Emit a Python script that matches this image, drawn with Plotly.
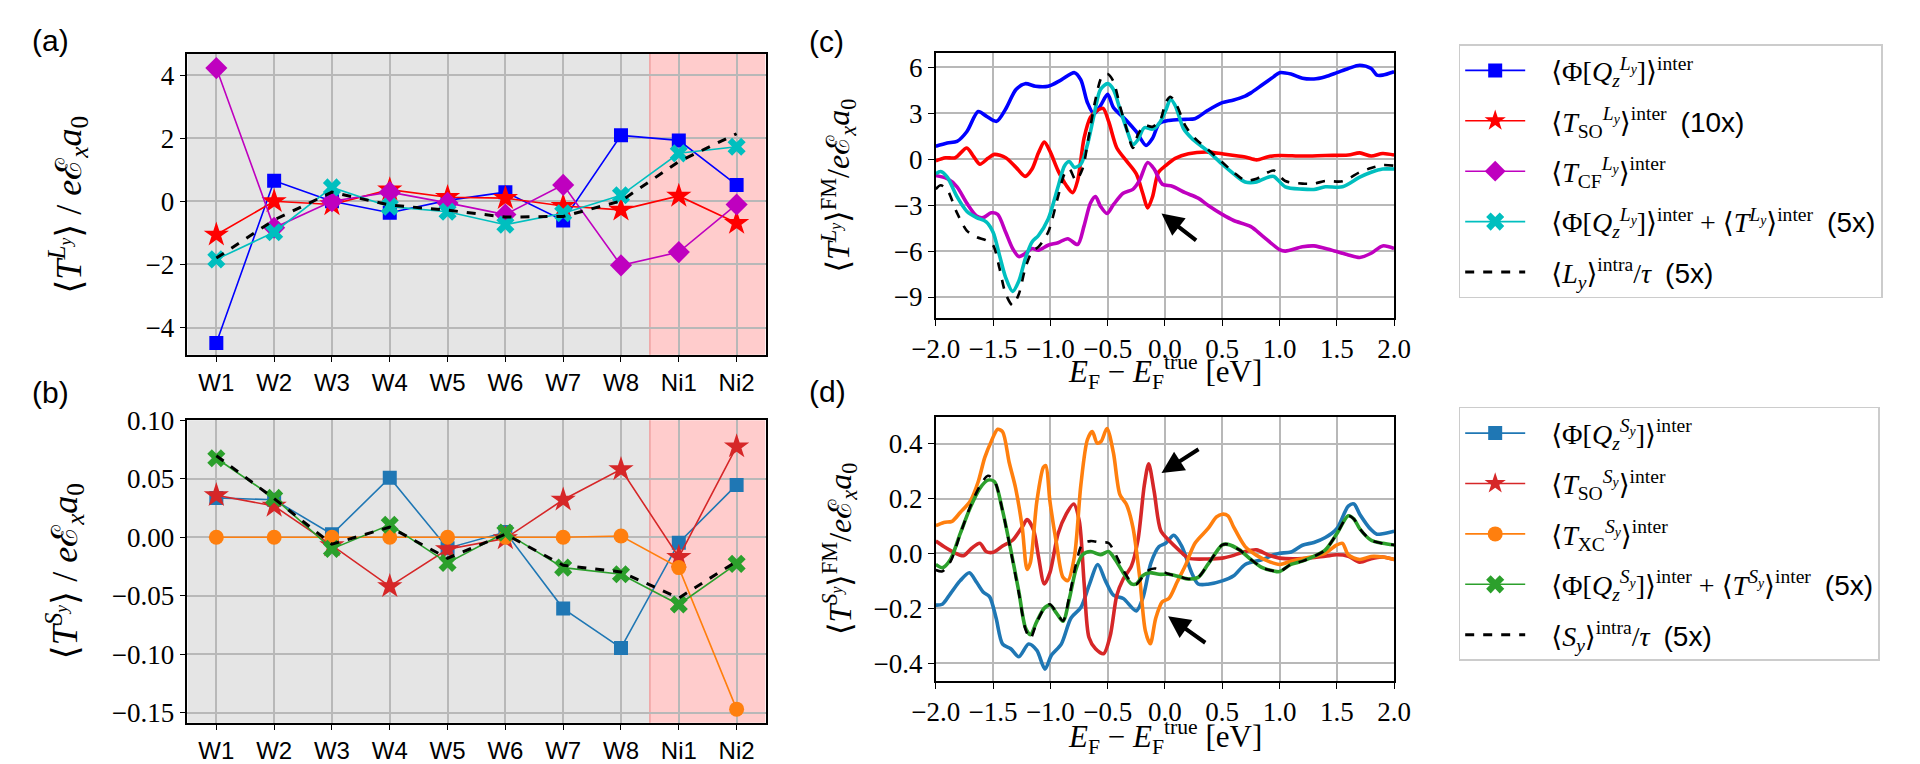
import plotly.graph_objects as go

# ---------------- data ----------------
sites = ["W1", "W2", "W3", "W4", "W5", "W6", "W7", "W8", "Ni1", "Ni2"]

# panel (a)
a_phiQ = [-4.49, 0.65, 0.0, -0.36, 0.03, 0.29, -0.61, 2.09, 1.93, 0.52]
a_tso = [-1.06, 0.0, -0.1, 0.37, 0.13, 0.1, -0.15, -0.27, 0.17, -0.69]
a_tcf = [4.22, -0.84, 0.0, 0.29, -0.05, -0.42, 0.52, -2.03, -1.61, -0.1]
a_sum = [-1.84, -0.98, 0.44, -0.17, -0.33, -0.74, -0.38, 0.19, 1.52, 1.73]
a_intra = [-1.8, -0.59, 0.29, -0.12, -0.28, -0.5, -0.48, 0.01, 1.26, 2.14]

# panel (b)
b_phiQ = [0.0336, 0.032, 0.0025, 0.0508, -0.0094, 0.0044, -0.061, -0.0947, -0.0047, 0.0447]
b_tso = [0.0358, 0.0267, -0.007, -0.042, -0.0103, -0.001, 0.032, 0.058, -0.017, 0.0775]
b_txc = [0.0, 0.0, 0.0, 0.0, 0.0, 0.0, 0.0, 0.001, -0.026, -0.147]
b_sum = [0.0675, 0.0336, -0.01, 0.0106, -0.022, 0.004, -0.026, -0.0317, -0.0575, -0.0228]
b_intra = [0.0697, 0.033, -0.006, 0.0086, -0.018, 0.0025, -0.024, -0.0297, -0.052, -0.0206]

# panel (c)
c_phiQ_E = [-2, -1.9, -1.815, -1.73, -1.63, -1.56, -1.47, -1.39, -1.30, -1.22, -1.13, -1.02, -0.905,
            -0.79, -0.734, -0.677, -0.62, -0.563, -0.5, -0.45, -0.336, -0.25, -0.165, -0.108, -0.051,
            0.034, 0.176, 0.26, 0.375, 0.5, 0.6, 0.7, 0.75, 0.85, 0.95, 1.0, 1.1, 1.2, 1.3, 1.4, 1.5,
            1.6, 1.7, 1.8, 1.85, 1.9, 2.0]
c_phiQ = [0.85, 1.06, 1.17, 1.8, 3.12, 2.82, 2.48, 3.29, 4.56, 4.94, 4.77, 4.77, 5.19, 5.66, 5.19,
          3.71, 2.97, 3.5, 4.24, 3.39, 2.54, 1.8, 0.91, 1.38, 2.33, 2.54, 2.61, 2.65, 3.2, 3.7, 3.88,
          4.13, 4.34, 4.87, 5.4, 5.66, 5.57, 5.3, 5.25, 5.4, 5.66, 5.93, 6.14, 5.93, 5.5, 5.5, 5.72]

c_tso_E = [-2, -1.915, -1.83, -1.73, -1.673, -1.616, -1.545, -1.49, -1.39, -1.30, -1.22, -1.16, -1.104,
           -1.053, -1.004, -0.933, -0.862, -0.805, -0.762, -0.706, -0.65, -0.592, -0.54, -0.49, -0.42,
           -0.336, -0.25, -0.194, -0.151, -0.108, -0.057, 0.006, 0.09, 0.205, 0.375, 0.5, 0.7, 0.8,
           0.9, 1.0, 1.2, 1.4, 1.6, 1.7, 1.8, 1.9, 2.0]
c_tso = [-0.1, 0.1, 0.1, 0.74, 0.21, -0.32, 0.06, 0.32, 0.1, -0.53, -1.12, -0.64, 0.42, 1.12, 0.53,
         -0.74, -1.7, -2.18, -1.38, 1.38, 2.75, 3.18, 3.33, 2.44, 0.74, -0.1, -0.95, -2.22, -3.18,
         -2.44, -0.85, -0.42, 0.06, 0.36, 0.47, 0.36, 0.15, -0.04, 0.17, 0.25, 0.21, 0.25, 0.28, 0.42,
         0.21, 0.38, 0.28]

c_tcf_E = [-2, -1.9, -1.815, -1.73, -1.644, -1.587, -1.516, -1.46, -1.39, -1.33, -1.275, -1.218, -1.16,
           -1.104, -1.02, -0.933, -0.848, -0.762, -0.706, -0.65, -0.606, -0.563, -0.506, -0.45, -0.365,
           -0.28, -0.222, -0.151, -0.094, -0.023, 0.063, 0.176, 0.29, 0.375, 0.5, 0.6, 0.75, 0.85, 1.0,
           1.05, 1.2, 1.3, 1.45, 1.6, 1.7, 1.8, 1.9, 2.0]
c_tcf = [-1.06, -1.27, -1.8, -2.86, -3.71, -3.81, -3.5, -3.6, -4.77, -5.83, -6.36, -6.14, -5.83, -5.94,
         -5.62, -5.45, -5.19, -5.57, -4.35, -2.86, -2.44, -3.07, -3.54, -2.97, -2.22, -1.97, -1.38,
         -0.21, -0.64, -1.63, -1.76, -2.18, -2.54, -3.0, -3.6, -4.0, -4.4, -5.0, -5.9, -6.0, -5.72,
         -5.66, -5.93, -6.25, -6.42, -6.14, -5.66, -5.83]

c_sum_E = [-2, -1.957, -1.9, -1.815, -1.73, -1.644, -1.56, -1.5, -1.445, -1.39, -1.33, -1.275, -1.218,
           -1.16, -1.104, -1.02, -0.933, -0.876, -0.834, -0.79, -0.734, -0.677, -0.62, -0.563, -0.5,
           -0.45, -0.393, -0.336, -0.28, -0.237, -0.18, -0.108, -0.051, 0.006, 0.048, 0.09, 0.162,
           0.233, 0.319, 0.375, 0.5, 0.6, 0.7, 0.8, 0.9, 0.95, 1.05, 1.2, 1.3, 1.4, 1.55, 1.7, 1.8,
           1.9, 2.0]
c_sum = [-0.95, -0.8, -1.17, -2.44, -3.39, -3.81, -4.09, -4.77, -6.25, -7.73, -8.63, -7.95, -6.47,
         -5.4, -4.98, -3.92, -1.8, -0.42, -0.15, -0.53, -0.32, 0.95, 2.86, 4.56, 4.94, 4.56, 3.29,
         2.01, 0.95, 1.27, 2.06, 1.97, 2.33, 3.18, 3.92, 3.5, 2.01, 1.38, 0.85, 0.53, -0.32, -0.95,
         -1.48, -1.48, -1.17, -1.12, -1.8, -1.95, -1.97, -1.8, -1.8, -1.17, -0.85, -0.64, -0.64]

c_intra_E = [-2, -1.957, -1.9, -1.815, -1.73, -1.644, -1.56, -1.5, -1.445, -1.39, -1.33, -1.275, -1.218,
             -1.16, -1.104, -1.02, -0.933, -0.876, -0.834, -0.777, -0.72, -0.663, -0.606, -0.55, -0.5,
             -0.45, -0.393, -0.336, -0.28, -0.237, -0.18, -0.108, -0.037, 0.006, 0.048, 0.105, 0.176,
             0.26, 0.375, 0.5, 0.6, 0.7, 0.8, 0.9, 0.95, 1.05, 1.2, 1.3, 1.4, 1.55, 1.7, 1.8, 1.9, 2.0]
c_intra = [-1.95, -1.7, -2.0, -3.5, -4.66, -5.08, -5.3, -5.62, -7.1, -8.8, -9.54, -8.8, -7.1, -6.04,
           -5.72, -4.77, -2.44, -0.95, -0.64, -1.38, -0.64, 1.59, 3.92, 5.4, 5.57, 5.09, 3.5, 2.01,
           0.74, 1.59, 2.22, 2.12, 2.65, 3.71, 4.09, 3.5, 2.22, 1.38, 0.64, -0.2, -0.85, -1.38, -1.27,
           -0.85, -0.74, -1.42, -1.59, -1.59, -1.42, -1.44, -0.85, -0.57, -0.38, -0.42]

# panel (d)
d_phiQ_E = [-2, -1.943, -1.872, -1.787, -1.707, -1.644, -1.587, -1.53, -1.474, -1.417, -1.346, -1.275,
            -1.19, -1.118, -1.047, -0.99, -0.905, -0.82, -0.734, -0.663, -0.586, -0.52, -0.45, -0.364,
            -0.25, -0.194, -0.122, -0.051, 0.006, 0.077, 0.148, 0.233, 0.29, 0.375, 0.5, 0.6, 0.7,
            0.85, 0.95, 1.0, 1.1, 1.2, 1.3, 1.4, 1.5, 1.6, 1.65, 1.7, 1.8, 1.85, 1.9, 2.0]
d_phiQ = [-0.188, -0.185, -0.146, -0.099, -0.07, -0.105, -0.14, -0.158, -0.235, -0.33, -0.347, -0.376,
          -0.33, -0.353, -0.421, -0.37, -0.33, -0.235, -0.197, -0.117, -0.04, -0.099, -0.152, -0.164,
          -0.209, -0.164, -0.034, 0.025, 0.037, 0.066, 0.025, -0.07, -0.111, -0.112, -0.1, -0.081,
          -0.04, -0.022, -0.005, 0.001, 0.005, 0.03, 0.04, 0.058, 0.09, 0.172, 0.18, 0.143, 0.086,
          0.07, 0.072, 0.081]

d_tso_E = [-2, -1.93, -1.843, -1.758, -1.687, -1.616, -1.56, -1.5, -1.417, -1.33, -1.246, -1.203, -1.146,
           -1.104, -1.053, -1.004, -0.933, -0.862, -0.797, -0.748, -0.706, -0.663, -0.606, -0.535, -0.478,
           -0.42, -0.364, -0.293, -0.236, -0.18, -0.142, -0.094, -0.037, 0.034, 0.12, 0.205, 0.375, 0.5,
           0.6, 0.7, 0.8, 0.9, 1.0, 1.2, 1.4, 1.5, 1.6, 1.7, 1.8, 1.9, 2.0]
d_tso = [0.045, 0.025, 0.004, -0.008, 0.019, 0.037, 0.007, 0.004, 0.027, 0.048, 0.096, 0.123, 0.084,
         -0.011, -0.111, -0.07, 0.072, 0.143, 0.18, 0.119, -0.105, -0.306, -0.347, -0.365, -0.3, -0.152,
         -0.093, -0.046, 0.048, 0.249, 0.326, 0.225, 0.084, 0.048, 0.013, -0.017, -0.02, -0.017, -0.007,
         0.007, 0.013, -0.005, -0.017, -0.019, -0.01, -0.005, -0.01, -0.032, -0.019, -0.013, -0.022]

d_txc_E = [-2, -1.93, -1.858, -1.787, -1.7, -1.63, -1.573, -1.516, -1.46, -1.417, -1.36, -1.303, -1.246,
           -1.203, -1.175, -1.118, -1.061, -1.04, -1.004, -0.947, -0.89, -0.848, -0.79, -0.734, -0.677,
           -0.634, -0.592, -0.557, -0.506, -0.45, -0.393, -0.336, -0.28, -0.222, -0.171, -0.128, -0.08,
           -0.023, 0.034, 0.105, 0.176, 0.262, 0.375, 0.45, 0.5, 0.55, 0.6, 0.7, 0.8, 0.9, 1.0, 1.1,
           1.2, 1.3, 1.4, 1.5, 1.55, 1.6, 1.7, 1.8, 1.9, 2.0]
d_txc = [0.101, 0.113, 0.117, 0.149, 0.19, 0.261, 0.349, 0.408, 0.452, 0.443, 0.332, 0.237, 0.096,
         -0.058, -0.034, 0.19, 0.314, 0.32, 0.19, 0.037, -0.087, -0.099, -0.011, 0.249, 0.414, 0.444,
         0.402, 0.408, 0.455, 0.367, 0.214, 0.178, 0.096, -0.081, -0.282, -0.329, -0.235, -0.176,
         -0.164, -0.105, -0.046, 0.037, 0.09, 0.133, 0.143, 0.137, 0.096, 0.025, -0.007, -0.028, -0.04,
         -0.028, -0.019, -0.011, 0.001, 0.031, 0.037, -0.005, -0.022, -0.011, -0.013, -0.022]

d_sum_E = [-2, -1.943, -1.872, -1.787, -1.7, -1.616, -1.545, -1.488, -1.417, -1.346, -1.275, -1.218,
           -1.175, -1.118, -1.053, -1.004, -0.947, -0.89, -0.834, -0.777, -0.72, -0.649, -0.563, -0.492,
           -0.435, -0.364, -0.293, -0.25, -0.194, -0.137, -0.051, 0.034, 0.12, 0.205, 0.29, 0.375, 0.5,
           0.55, 0.65, 0.75, 0.85, 0.95, 1.0, 1.1, 1.2, 1.3, 1.4, 1.5, 1.6, 1.65, 1.7, 1.8, 1.9, 2.0]
d_sum = [-0.04, -0.052, -0.022, 0.072, 0.166, 0.237, 0.267, 0.261, 0.155, 0.013, -0.14, -0.27, -0.296,
         -0.247, -0.199, -0.188, -0.217, -0.247, -0.164, -0.058, -0.005, 0.007, -0.005, 0.007, -0.022,
         -0.07, -0.111, -0.111, -0.081, -0.07, -0.076, -0.076, -0.084, -0.093, -0.087, -0.04, 0.031,
         0.033, 0.013, -0.022, -0.052, -0.064, -0.066, -0.04, -0.028, -0.011, 0.013, 0.072, 0.137,
         0.125, 0.09, 0.048, 0.037, 0.031]

d_intra_E = [-2, -1.943, -1.872, -1.787, -1.7, -1.616, -1.545, -1.488, -1.417, -1.346, -1.275, -1.218,
             -1.175, -1.118, -1.053, -1.004, -0.947, -0.89, -0.834, -0.777, -0.72, -0.649, -0.563,
             -0.492, -0.435, -0.364, -0.293, -0.25, -0.194, -0.137, -0.08, -0.051, 0.034, 0.12, 0.205,
             0.29, 0.375, 0.5, 0.55, 0.65, 0.75, 0.85, 0.95, 1.0, 1.1, 1.2, 1.3, 1.4, 1.5, 1.6, 1.65,
             1.7, 1.8, 1.9, 2.0]
d_intra = [-0.06, -0.065, -0.03, 0.07, 0.17, 0.245, 0.283, 0.265, 0.155, 0.01, -0.145, -0.275, -0.31,
           -0.25, -0.2, -0.185, -0.215, -0.245, -0.155, -0.04, 0.035, 0.045, 0.04, 0.038, 0.0, -0.06,
           -0.105, -0.112, -0.085, -0.06, -0.055, -0.06, -0.075, -0.084, -0.093, -0.087, -0.04, 0.031,
           0.033, 0.013, -0.022, -0.052, -0.064, -0.066, -0.04, -0.028, -0.011, 0.013, 0.072, 0.137,
           0.125, 0.09, 0.048, 0.037, 0.031]

# ---------------- styling helpers ----------------
W, H = 1920, 764
SERIF = "Liberation Serif, DejaVu Serif, serif"
SANS = "Liberation Sans Narrow, Liberation Sans, Arial, sans-serif"
SANS_W = "Liberation Sans, Arial, sans-serif"


def px_x(p):
    return p / W


def px_y(p):
    return 1 - p / H


def sans(t):
    return f"<span style='font-family:{SANS_W}'>{t}</span>"


fig = go.Figure()

# legend labels (leading non-breaking spaces widen the gap after the symbol)
PAD = "\u00a0\u00a0\u00a0"
Ly = "<i>L</i><sub><i>y</i></sub>"
Sy = "<i>S</i><sub><i>y</i></sub>"
lab_a = [
    PAD + f"⟨Φ[<i>Q</i><sub><i>z</i></sub><sup>{Ly}</sup>]⟩<sup>inter</sup>",
    PAD + f"⟨<i>T</i><sub>SO</sub><sup>{Ly}</sup>⟩<sup>inter</sup>  " + sans("(10x)"),
    PAD + f"⟨<i>T</i><sub>CF</sub><sup>{Ly}</sup>⟩<sup>inter</sup>",
    PAD + f"⟨Φ[<i>Q</i><sub><i>z</i></sub><sup>{Ly}</sup>]⟩<sup>inter</sup> + ⟨<i>T</i><sup>{Ly}</sup>⟩<sup>inter</sup>  " + sans("(5x)"),
    PAD + f"⟨{Ly}⟩<sup>intra</sup>/<i>τ</i>  " + sans("(5x)"),
]
lab_b = [
    PAD + f"⟨Φ[<i>Q</i><sub><i>z</i></sub><sup>{Sy}</sup>]⟩<sup>inter</sup>",
    PAD + f"⟨<i>T</i><sub>SO</sub><sup>{Sy}</sup>⟩<sup>inter</sup>",
    PAD + f"⟨<i>T</i><sub>XC</sub><sup>{Sy}</sup>⟩<sup>inter</sup>",
    PAD + f"⟨Φ[<i>Q</i><sub><i>z</i></sub><sup>{Sy}</sup>]⟩<sup>inter</sup> + ⟨<i>T</i><sup>{Sy}</sup>⟩<sup>inter</sup>  " + sans("(5x)"),
    PAD + f"⟨{Sy}⟩<sup>intra</sup>/<i>τ</i>  " + sans("(5x)"),
]

cols_a = ["#0000ff", "#ff0000", "#bf00bf", "#00bfbf", "black"]
cols_b = ["#1f77b4", "#d62728", "#ff7f0e", "#2ca02c", "black"]
syms_a = ["square", "star", "diamond", "x", None]
syms_b = ["square", "star", "circle", "x", None]
sizes = {"square": 14, "star": 19, "diamond": 17, "x": 16, "circle": 15}

# ---- panel a (x, y) ----
for i, ys in enumerate([a_phiQ, a_tso, a_tcf, a_sum, a_intra]):
    if syms_a[i] is None:
        fig.add_trace(go.Scatter(x=sites, y=ys, mode="lines", xaxis="x", yaxis="y",
                                 line=dict(color="black", width=3, dash="dash"),
                                 name=lab_a[i], legend="legend", legendgroup=f"a{i}"))
    else:
        fig.add_trace(go.Scatter(x=sites, y=ys, mode="lines+markers", xaxis="x", yaxis="y",
                                 line=dict(color=cols_a[i], width=1.6),
                                 marker=dict(symbol=syms_a[i], size=sizes[syms_a[i]], color=cols_a[i],
                                             line=dict(width=0)),
                                 name=lab_a[i], legend="legend", legendgroup=f"a{i}"))

# ---- panel b (x2, y2) ----
for i, ys in enumerate([b_phiQ, b_tso, b_txc, b_sum, b_intra]):
    if syms_b[i] is None:
        fig.add_trace(go.Scatter(x=sites, y=ys, mode="lines", xaxis="x2", yaxis="y2",
                                 line=dict(color="black", width=3, dash="dash"),
                                 name=lab_b[i], legend="legend2", legendgroup=f"b{i}"))
    else:
        fig.add_trace(go.Scatter(x=sites, y=ys, mode="lines+markers", xaxis="x2", yaxis="y2",
                                 line=dict(color=cols_b[i], width=1.6),
                                 marker=dict(symbol=syms_b[i], size=sizes[syms_b[i]], color=cols_b[i],
                                             line=dict(width=0)),
                                 name=lab_b[i], legend="legend2", legendgroup=f"b{i}"))

# ---- panel c (x3, y3) ----
c_series = [(c_phiQ_E, c_phiQ), (c_tso_E, c_tso), (c_tcf_E, c_tcf), (c_sum_E, c_sum), (c_intra_E, c_intra)]
for i, (xs, ys) in enumerate(c_series):
    dash = "dash" if i == 4 else "solid"
    wid = 2.6 if i == 4 else 3.6
    fig.add_trace(go.Scatter(x=xs, y=ys, mode="lines", xaxis="x3", yaxis="y3",
                             line=dict(color=cols_a[i], width=wid, dash=dash, shape="spline", smoothing=0.8),
                             showlegend=False))

# ---- panel d (x4, y4) ----
d_series = [(d_phiQ_E, d_phiQ), (d_tso_E, d_tso), (d_txc_E, d_txc), (d_sum_E, d_sum), (d_intra_E, d_intra)]
for i, (xs, ys) in enumerate(d_series):
    dash = "dash" if i == 4 else "solid"
    wid = 2.6 if i == 4 else 3.6
    fig.add_trace(go.Scatter(x=xs, y=ys, mode="lines", xaxis="x4", yaxis="y4",
                             line=dict(color=cols_b[i], width=wid, dash=dash, shape="spline", smoothing=0.8),
                             showlegend=False))

# ---------------- axes ----------------
grid = "#b8b8b8"
common = dict(showline=True, linecolor="black", linewidth=1.6, mirror=True, ticks="outside",
              ticklen=6, tickwidth=1.4, tickcolor="black", showgrid=True, gridcolor=grid,
              gridwidth=1.5, zeroline=False)
num_font = dict(family=SERIF, size=27, color="black")
cat_font = dict(family=SANS, size=24, color="black")

xa_dom = [px_x(167), px_x(757.7)]
xc_dom = [px_x(931.7), px_x(1400)]

fig.update_layout(
    xaxis=dict(common, domain=xa_dom, anchor="y", range=[-0.5, 9.5], tickfont=cat_font,
               type="category"),
    yaxis=dict(common, domain=[px_y(349.3), px_y(40)], anchor="x", range=[-4.86, 4.67],
               tickvals=[-4, -2, 0, 2, 4], tickfont=num_font),
    xaxis2=dict(common, domain=xa_dom, anchor="y2", range=[-0.5, 9.5], tickfont=cat_font,
                type="category"),
    yaxis2=dict(common, domain=[px_y(727.7), px_y(416.7)], anchor="x2", range=[-0.1586, 0.1],
                tickvals=[-0.15, -0.10, -0.05, 0.0, 0.05, 0.10], tickformat=".2f", tickfont=num_font),
    xaxis3=dict(common, domain=xc_dom, anchor="y3", range=[-2, 2], tickvals=[-2, -1.5, -1, -0.5, 0, 0.5, 1, 1.5, 2],
                tickformat=".1f", tickfont=num_font),
    yaxis3=dict(common, domain=[px_y(311.7), px_y(39.3)], anchor="x3", range=[-10.38, 6.93],
                tickvals=[-9, -6, -3, 0, 3, 6], tickfont=num_font),
    xaxis4=dict(common, domain=xc_dom, anchor="y4", range=[-2, 2], tickvals=[-2, -1.5, -1, -0.5, 0, 0.5, 1, 1.5, 2],
                tickformat=".1f", tickfont=num_font),
    yaxis4=dict(common, domain=[px_y(685), px_y(413.3)], anchor="x4", range=[-0.465, 0.497],
                tickvals=[-0.4, -0.2, 0.0, 0.2, 0.4], tickformat=".1f", tickfont=num_font),
)

# background regions for (a) and (b)
shapes = []
for xr, yr in [("x", "y"), ("x2", "y2")]:
    shapes.append(dict(type="rect", xref=xr, yref=f"{yr} domain", x0=-0.5, x1=7.5, y0=0, y1=1,
                       fillcolor="#e5e5e5", line=dict(width=0), layer="below"))
    shapes.append(dict(type="rect", xref=xr, yref=f"{yr} domain", x0=7.5, x1=9.5, y0=0, y1=1,
                       fillcolor="#ffcccc", line=dict(width=0), layer="below"))
    shapes.append(dict(type="line", xref=xr, yref=f"{yr} domain", x0=7.5, x1=7.5, y0=0, y1=1,
                       line=dict(color="#f0a0a0", width=1.5), layer="below"))
fig.update_layout(shapes=shapes)

# ---------------- annotations ----------------
ann = []
ylab_a = "⟨<i>T</i><sup><i>L</i><sub><i>y</i></sub></sup>⟩ / <i>e</i>ℰ<sub><i>x</i></sub><i>a</i><sub>0</sub>"
ylab_b = "⟨<i>T</i><sup><i>S</i><sub><i>y</i></sub></sup>⟩ / <i>e</i>ℰ<sub><i>x</i></sub><i>a</i><sub>0</sub>"
ylab_c = "⟨<i>T</i><sup><i>L</i><sub><i>y</i></sub></sup>⟩<sup>FM</sup>/<i>e</i>ℰ<sub><i>x</i></sub><i>a</i><sub>0</sub>"
ylab_d = "⟨<i>T</i><sup><i>S</i><sub><i>y</i></sub></sup>⟩<sup>FM</sup>/<i>e</i>ℰ<sub><i>x</i></sub><i>a</i><sub>0</sub>"
xlab_cd = "<i>E</i><sub>F</sub> − <i>E</i><sub>F</sub><sup>true</sup> [eV]"
for txt, x, y, fs in [(ylab_a, 45, 195, 36), (ylab_b, 42, 572, 36), (ylab_c, 832, 175, 32),
                      (ylab_d, 834, 549, 32)]:
    ann.append(dict(text=txt, x=px_x(x), y=px_y(y), xref="paper", yref="paper", showarrow=False,
                    textangle=-90, font=dict(family=SERIF, size=fs, color="black"),
                    xanchor="center", yanchor="middle"))
for y in [367, 742]:
    ann.append(dict(text=xlab_cd, x=px_x(1166), y=px_y(y), xref="paper", yref="paper", showarrow=False,
                    font=dict(family=SERIF, size=31, color="black"), xanchor="center", yanchor="middle"))
for txt, x, y in [("(a)", 27, 26), ("(b)", 27, 388), ("(c)", 820, 27), ("(d)", 821, 387)]:
    ann.append(dict(text=txt, x=px_x(x), y=px_y(y), xref="paper", yref="paper", showarrow=False,
                    font=dict(family=SANS_W, size=30, color="black"), xanchor="center", yanchor="middle"))

# arrows
for xr, yr, hx, hy, tx, ty in [("x3", "y3", -0.03, -3.55, 0.285, -5.37),
                               ("x4", "y4", -0.03, 0.293, 0.306, 0.383),
                               ("x4", "y4", 0.027, -0.229, 0.365, -0.329)]:
    ann.append(dict(x=hx, y=hy, ax=tx, ay=ty, xref=xr, yref=yr, axref=xr, ayref=yr, text="",
                    showarrow=True, arrowhead=2, arrowsize=1.1, arrowwidth=4, arrowcolor="black"))
fig.update_layout(annotations=ann)

# ---------------- legends ----------------
leg_common = dict(xanchor="left", yanchor="top", bgcolor="white", bordercolor="#cccccc", borderwidth=1.5,
                  font=dict(family=SERIF, size=28, color="black"), itemwidth=60, tracegroupgap=11,
                  traceorder="grouped")
fig.update_layout(
    legend=dict(leg_common, x=px_x(1466), y=px_y(30)),
    legend2=dict(leg_common, x=px_x(1466), y=px_y(403)),
)

fig.update_layout(width=W, height=H, margin=dict(l=0, r=0, t=0, b=0),
                  paper_bgcolor="white", plot_bgcolor="white", showlegend=True)

fig.write_html("out.html", config={"displayModeBar": False},
               post_script="document.body.style.margin='0';document.body.style.overflow='hidden';")
